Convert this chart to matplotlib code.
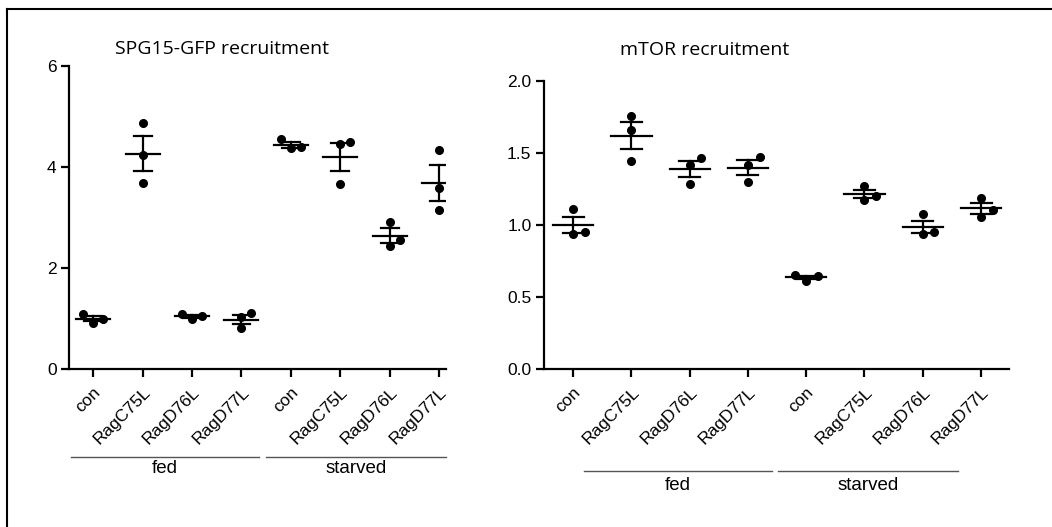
import numpy as np
import matplotlib
matplotlib.use("Agg")
import matplotlib.pyplot as plt

# categories
conditions = ["con", "RagC75L", "RagD76L", "RagD77L"]
groups = ["fed", "starved"]
tick_labels = conditions + conditions

# replicate values, fed then starved
spg15_values = [
    [0.92, 0.99, 1.09],
    [4.87, 4.23, 3.69],
    [0.99, 1.05, 1.09],
    [1.02, 1.10, 0.82],
    [4.37, 4.40, 4.56],
    [4.45, 4.49, 3.66],
    [2.92, 2.44, 2.56],
    [4.34, 3.58, 3.14],
]
mtor_values = [
    [1.108, 0.939, 0.948],
    [1.759, 1.659, 1.446],
    [1.418, 1.465, 1.282],
    [1.418, 1.474, 1.300],
    [0.612, 0.647, 0.651],
    [1.272, 1.177, 1.203],
    [1.075, 0.939, 0.948],
    [1.189, 1.054, 1.103],
]

plt.rcParams['font.family'] = ['Liberation Sans', 'DejaVu Sans']

fig = plt.figure(figsize=(10.52, 5.27), dpi=100)

# frame lines (top and left) around the figure
fig.add_artist(plt.Line2D([7 / 1052, 1], [1 - 9 / 527, 1 - 9 / 527], color='black', lw=1.5))
fig.add_artist(plt.Line2D([7 / 1052, 7 / 1052], [0, 1 - 9 / 527], color='black', lw=1.5))


def swarm(ax, x0, vals, step, diam=9.8):
    # simple beeswarm: center, then right, then left
    placed = []
    xs = []
    for v in vals:
        for k in [0, 1, -1, 2, -2]:
            x = x0 + k * step
            px, py = ax.transData.transform((x, v))
            ok = True
            for (qx, qy) in placed:
                if np.hypot(px - qx, py - qy) < diam:
                    ok = False
                    break
            if ok:
                break
        placed.append((px, py))
        xs.append(x)
    return xs


def draw_panel(ax, values, title, ylim, yticks, yfmt, xlim, spans, line_y, label_y, title_xy):
    ax.set_xlim(*xlim)
    ax.set_ylim(*ylim)
    for s in ['top', 'right']:
        ax.spines[s].set_visible(False)
    for s in ['left', 'bottom']:
        ax.spines[s].set_linewidth(1.6)
    ax.set_yticks(yticks)
    ax.set_yticklabels([yfmt.format(t) for t in yticks], fontsize=12.5)
    pos = np.arange(len(values))
    ax.set_xticks(pos)
    ax.set_xticklabels(tick_labels, rotation=45, ha='right', va='top',
                       rotation_mode='anchor', fontsize=12.5)
    ax.tick_params(axis='both', direction='out', length=6, width=1.6, color='black')
    ax.tick_params(axis='y', pad=3)
    ax.tick_params(axis='x', pad=5)

    for i, vals in enumerate(values):
        vals = np.array(vals)
        m = vals.mean()
        sem = vals.std(ddof=1) / np.sqrt(len(vals))
        xs = swarm(ax, i, vals, 0.2)
        ax.plot(xs, vals, 'o', color='black', markersize=5.5, zorder=3, clip_on=False)
        ax.plot([i - 0.345, i + 0.345], [m, m], color='black', lw=1.6, zorder=2)
        ax.plot([i - 0.18, i + 0.18], [m + sem, m + sem], color='black', lw=1.6, zorder=2)
        ax.plot([i - 0.18, i + 0.18], [m - sem, m - sem], color='black', lw=1.6, zorder=2)
        ax.plot([i, i], [m - sem, m + sem], color='black', lw=1.6, zorder=2)

    trans = ax.get_xaxis_transform()
    for g, (a, b) in zip(groups, spans):
        ax.plot([a, b], [line_y, line_y], color='#555555', lw=1.0, transform=trans, clip_on=False)
        ax.text((a + b) / 2, label_y, g, transform=trans, ha='center', va='center', fontsize=13.5)

    fig.text(title_xy[0], title_xy[1], title, fontsize=14, ha='left', va='center',
             family=['Open Sans', 'DejaVu Sans'])


ax1 = fig.add_axes([69 / 1052, 1 - 369 / 527, 377 / 1052, 303 / 527])
draw_panel(ax1, spg15_values, "SPG15-GFP recruitment", (0, 6), [0, 2, 4, 6], "{:.0f}",
           (-0.49, 7.14), [(-0.45, 3.36), (3.5, 7.15)], -0.289, -0.33,
           (115 / 1052, 1 - 49 / 527))

ax2 = fig.add_axes([544 / 1052, 1 - 369 / 527, 465 / 1052, 288 / 527])
draw_panel(ax2, mtor_values, "mTOR recruitment", (0, 2.0), [0, 0.5, 1.0, 1.5, 2.0], "{:.1f}",
           (-0.5, 7.48), [(0.18, 3.41), (3.51, 6.61)], -0.354, -0.403,
           (620 / 1052, 1 - 50 / 527))

fig.savefig("out.png", dpi=100)
